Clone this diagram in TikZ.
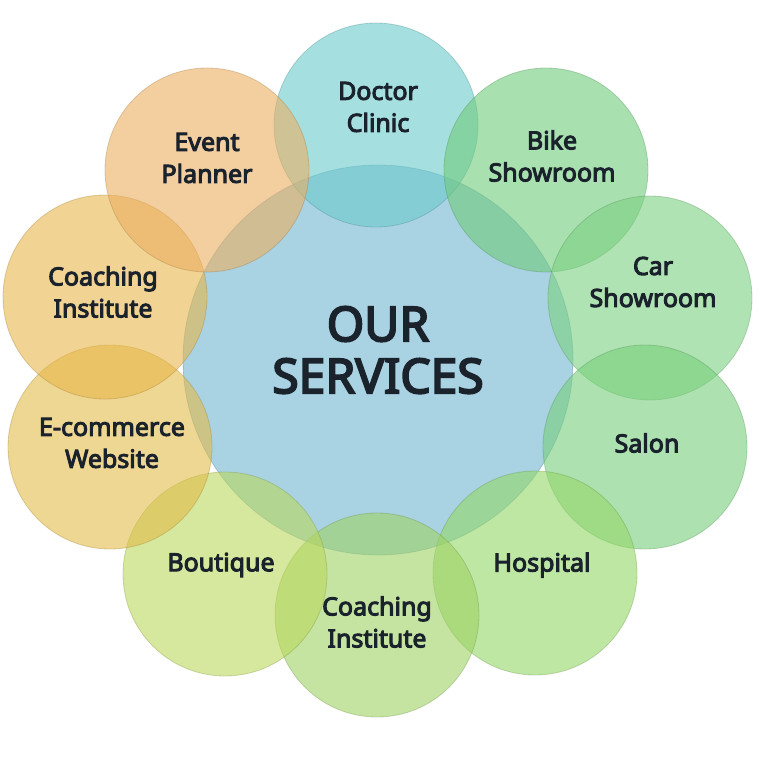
\documentclass[tikz,border=0pt]{standalone}
\usepackage{fontspec}
\setmainfont{Noto Sans}[AutoFakeBold=4]
\usetikzlibrary{shapes}
\definecolor{kozep}{HTML}{70B4CF}
\definecolor{orvos}{HTML}{6BCACB}
\definecolor{bicikli}{HTML}{70CB7B}
\definecolor{auto}{HTML}{7BD080}
\definecolor{szalon}{HTML}{76CF7B}
\definecolor{korhaz}{HTML}{94D767}
\definecolor{tanfolyamA}{HTML}{9ED264}
\definecolor{butik}{HTML}{BBD75D}
\definecolor{webshop}{HTML}{E3BC49}
\definecolor{tanfolyamB}{HTML}{E8B64B}
\definecolor{rendezveny}{HTML}{EBAF61}
\definecolor{szoveg}{HTML}{1A222C}

\begin{document}
\begin{tikzpicture}[x=1pt,y=-1pt,
kor/.style={circle,minimum size=204pt,inner sep=0pt,fill opacity=.6,draw opacity=.35,line width=.8pt},
felirat/.style={align=center,font=\fontsize{25}{32}\selectfont\bfseries,text=szoveg}]

\useasboundingbox (0,0) rectangle (768,781);

\node[kor,minimum size=390pt,fill=kozep,draw=kozep!70!black](kozep) at (378,360){};

\node[kor,fill=orvos,draw=orvos!70!black](orvos) at (376,125){};
\node[kor,fill=bicikli,draw=bicikli!70!black](bicikli) at (546,170){};
\node[kor,fill=auto,draw=auto!70!black](auto) at (650,298){};
\node[kor,fill=szalon,draw=szalon!70!black](szalon) at (645,447){};
\node[kor,fill=korhaz,draw=korhaz!70!black](korhaz) at (535,573){};
\node[kor,fill=tanfolyamA,draw=tanfolyamA!70!black](tanfolyamA) at (377,615){};
\node[kor,fill=butik,draw=butik!70!black](butik) at (225,574){};
\node[kor,fill=webshop,draw=webshop!70!black](webshop) at (110,447){};
\node[kor,fill=tanfolyamB,draw=tanfolyamB!70!black](tanfolyamB) at (105,297){};
\node[kor,fill=rendezveny,draw=rendezveny!70!black](rendezveny) at (207,170){};

% feliratok
\node[felirat,font=\fontsize{48}{52}\selectfont\bfseries](cim) at (378,350){OUR\\SERVICES};
\node[felirat](orvos-t) at (378,107){Doctor\\Clinic};
\node[felirat](bicikli-t) at (552,156){Bike\\Showroom};
\node[felirat](auto-t) at (653,282){Car\\Showroom};
\node[felirat](szalon-t) at (647,443){Salon};
\node[felirat](korhaz-t) at (542,565){Hospital};
\node[felirat](tanfolyamA-t) at (377,622){Coaching\\Institute};
\node[felirat](butik-t) at (221,565){Boutique};
\node[felirat](webshop-t) at (112,443){E-commerce\\Website};
\node[felirat](tanfolyamB-t) at (103,292){Coaching\\Institute};
\node[felirat](rendezveny-t) at (207,158){Event\\Planner};

\end{tikzpicture}
\end{document}
